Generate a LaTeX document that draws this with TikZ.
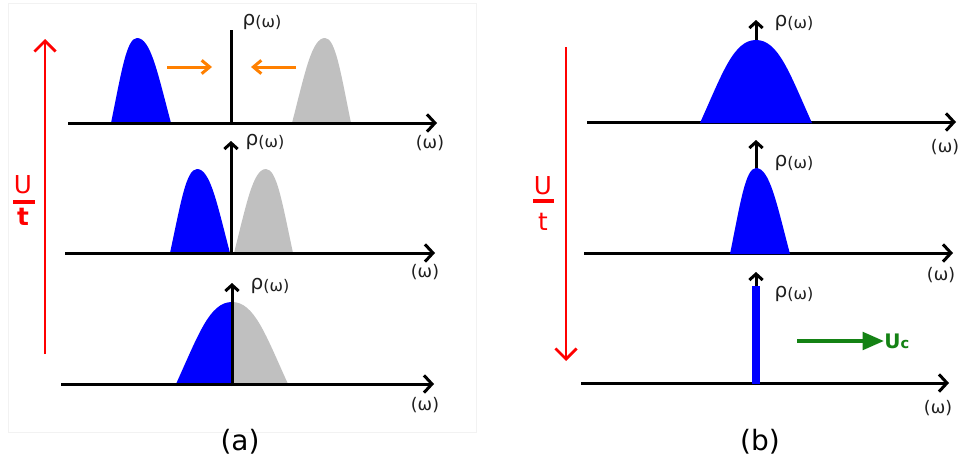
\documentclass[tikz,border=0pt]{standalone}
\usepackage{fontspec}
\setmainfont{DejaVu Sans}
\usetikzlibrary{arrows.meta}
\definecolor{bblue}{RGB}{0,0,255}
\definecolor{bgray}{RGB}{192,192,192}
\definecolor{borange}{RGB}{255,128,0}
\definecolor{bgreen}{RGB}{20,130,20}
\definecolor{bred}{RGB}{255,0,0}
\definecolor{labgray}{RGB}{30,30,30}
% #1 base x, #2 peak x, #3 peak y, #4 base y, #5 colour
\newcommand{\halfbump}[5]{%
  \fill[#5] (#1,#4) .. controls ({#1+0.4*(#2-#1)},{#4-0.6*(#4-#3)}) and ({#2-0.4*(#2-#1)},#3) .. (#2,#3) -- (#2,#4) -- cycle;}
\newcommand{\fullbump}[6]{% #1 left, #2 peak x, #3 right, #4 peak y, #5 base y, #6 colour
  \halfbump{#1}{#2}{#4}{#5}{#6}\halfbump{#3}{#2}{#4}{#5}{#6}}
\newcommand{\rhotext}{\raisebox{1.5pt}{\fontsize{15}{15}\selectfont ρ}{\fontsize{12}{12}\selectfont(ω)}}
\tikzset{
  axis/.style={line width=2.25pt, -{Straight Barb[length=6pt,width=13pt,line width=2.25pt]}},
  vaxis/.style={line width=2.25pt, -{Straight Barb[length=4.5pt,width=10pt,line width=2.25pt]}},
  vplain/.style={line width=2.25pt},
  redarrow/.style={bred, line width=2pt, -{Straight Barb[length=8pt,width=16pt,line width=2pt]}},
  orangearrow/.style={borange, line width=2.25pt, -{Straight Barb[length=6pt,width=10pt,line width=2.25pt]}},
  rholab/.style={inner sep=0pt, text=labgray},
  omlab/.style={inner sep=0pt, text=labgray, font=\fontsize{13}{13}\selectfont},
  panellab/.style={inner sep=0pt, font=\fontsize{21}{21}\selectfont},
  ulab/.style={inner sep=0pt, text=bred, font=\fontsize{18.5}{18.5}\selectfont},
}
\begin{document}
\begin{tikzpicture}[x=0.75pt,y=-0.75pt]
\useasboundingbox (0,0) rectangle (959,464);
\fill[white] (0,0) rectangle (959,464);
% faint panel frame (a)
\draw[black!5, line width=0.75pt] (8,3) rectangle (476,432);

% ================= panel (a) =================
% row 1
\fullbump{111}{137}{171}{38}{123}{bblue}
\fullbump{292}{325}{351}{38}{123}{bgray}
\coordinate (a1l) at (68,123);  \coordinate (a1r) at (437,123);
\draw[axis] (a1l) -- (a1r);
\coordinate (a1b) at (231,124); \coordinate (a1t) at (231,30);
\draw[vplain] (a1b) -- (a1t);
\node[rholab] (ra1) at (262,22) {\rhotext};
\node[omlab] (oa1) at (430,143) {(ω)};
\coordinate (o1s) at (167,67); \coordinate (o1e) at (212,67);
\draw[orangearrow] (o1s) -- (o1e);
\coordinate (o2s) at (296,67); \coordinate (o2e) at (251,67);
\draw[orangearrow] (o2s) -- (o2e);

% row 2
\fullbump{170}{197}{230}{169}{253}{bblue}
\fullbump{234}{266}{293}{169}{253}{bgray}
\coordinate (a2l) at (65,253);  \coordinate (a2r) at (435,253);
\draw[axis] (a2l) -- (a2r);
\coordinate (a2b) at (231,254); \coordinate (a2t) at (231,141);
\draw[vaxis] (a2b) -- (a2t);
\node[rholab] (ra2) at (265,142) {\rhotext};
\node[omlab] (oa2) at (425,272) {(ω)};

% row 3
\halfbump{176}{232}{302}{384}{bblue}
\halfbump{288}{232}{302}{384}{bgray}
\coordinate (a3l) at (61,384);  \coordinate (a3r) at (434,384);
\draw[axis] (a3l) -- (a3r);
\coordinate (a3b) at (232,386); \coordinate (a3t) at (232,283);
\draw[vaxis] (a3b) -- (a3t);
\node[rholab] (ra3) at (270,286) {\rhotext};
\node[omlab] (oa3) at (425,405) {(ω)};

% red arrow and U/t
\coordinate (rab) at (45,354); \coordinate (rat) at (45,39);
\draw[redarrow] (rab) -- (rat);
\node[ulab] (ua) at (23,185) {U};
\coordinate (bal) at (13,202); \coordinate (bar) at (35,202);
\draw[bred, line width=2.5pt] (bal) -- (bar);
\node[ulab, font=\fontsize{18.5}{18.5}\selectfont\bfseries] (ta) at (23,217) {t};

\node[panellab] (pa) at (240,442) {(a)};

% ================= panel (b) =================
% row 1
\coordinate (b1l) at (587,122); \coordinate (b1r) at (956,122);
\draw[axis] (b1l) -- (b1r);
\coordinate (b1b) at (756,122); \coordinate (b1t) at (756,20);
\draw[vaxis] (b1b) -- (b1t);
\fullbump{700}{756}{812}{40}{123}{bblue}
\node[rholab] (rb1) at (794,23) {\rhotext};
\node[omlab] (ob1) at (945,147) {(ω)};

% row 2
\coordinate (b2l) at (584,253); \coordinate (b2r) at (953,253);
\draw[axis] (b2l) -- (b2r);
\coordinate (b2b) at (756,253); \coordinate (b2t) at (756,140);
\draw[vaxis] (b2b) -- (b2t);
\fullbump{730}{756}{790}{168}{254}{bblue}
\node[rholab] (rb2) at (794,163) {\rhotext};
\node[omlab] (ob2) at (941,275) {(ω)};

% row 3
\coordinate (b3l) at (581,383); \coordinate (b3r) at (949,383);
\draw[axis] (b3l) -- (b3r);
\coordinate (b3b) at (756,385); \coordinate (b3t) at (756,272);
\draw[vaxis] (b3b) -- (b3t);
\coordinate (blb) at (756,384); \coordinate (blt) at (756,286);
\draw[bblue, line width=6pt] (blb) -- (blt);
\node[rholab] (rb3) at (794,294) {\rhotext};
\node[omlab] (ob3) at (938,408) {(ω)};

% green arrow and Uc
\node[inner sep=0pt, anchor=west, text=bgreen, font=\bfseries] (uc) at (884,341)
  {\fontsize{15}{15}\selectfont U\fontsize{11}{11}\selectfont c};
\coordinate (gs) at (797,341);
\draw[bgreen, line width=3pt, -{Triangle[length=16pt,width=13pt]}] (gs) -- (uc.west);

% red arrow and U/t
\coordinate (rbt) at (566,47); \coordinate (rbb) at (566,361);
\draw[redarrow] (rbt) -- (rbb);
\node[ulab] (ub) at (543,186) {U};
\coordinate (bbl) at (533,201); \coordinate (bbr) at (554,201);
\draw[bred, line width=2.5pt] (bbl) -- (bbr);
\node[ulab] (tb) at (543,222) {t};

\node[panellab] (pb) at (760,442) {(b)};
\end{tikzpicture}
\end{document}
